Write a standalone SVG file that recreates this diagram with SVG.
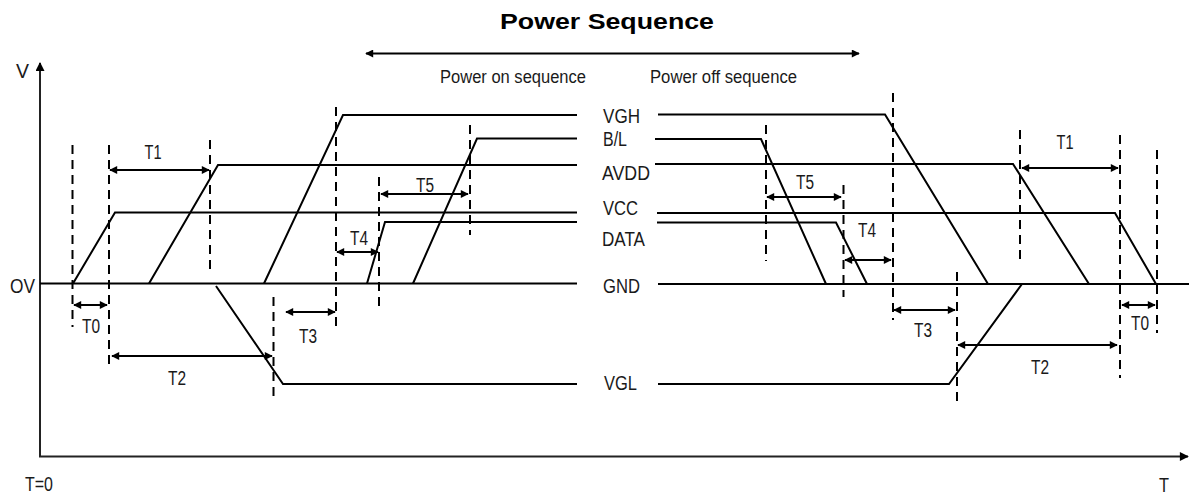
<svg xmlns="http://www.w3.org/2000/svg" width="1189" height="497" viewBox="0 0 1189 497">
<style>
.sig{fill:none;stroke:#000;stroke-width:2;stroke-linejoin:miter}
.dash{fill:none;stroke:#000;stroke-width:2;stroke-dasharray:9,6}
.dim{fill:none;stroke:#000;stroke-width:2;marker-start:url(#ah);marker-end:url(#ah)}
.ax{fill:none;stroke:#222;stroke-width:2}
text{font-family:"Liberation Sans",Arial,sans-serif;fill:#1a1a1a}
.lbl{font-size:20px}
.tl{font-size:20px;text-anchor:middle}
.sub{font-size:18px}
.ttl{font-size:22px;font-weight:bold;text-anchor:middle;fill:#000}
</style>
<defs>
<marker id="ah" viewBox="0 0 10 10" refX="9" refY="5" markerWidth="9" markerHeight="8" markerUnits="userSpaceOnUse" orient="auto-start-reverse">
<path d="M0,0 L10,5 L0,10 z" fill="#000"/>
</marker>
<marker id="axh" viewBox="0 0 10 10" refX="9" refY="5" markerWidth="11" markerHeight="9" markerUnits="userSpaceOnUse" orient="auto">
<path d="M0,0 L10,5 L0,10 z" fill="#000"/>
</marker>
</defs>

<g id="title">
<text class="ttl" x="607" y="29" textLength="214" lengthAdjust="spacingAndGlyphs">Power Sequence</text>
<line class="dim" x1="366" y1="53.5" x2="859" y2="53.5"/>
<text class="sub" x="440" y="83" textLength="146" lengthAdjust="spacingAndGlyphs">Power on sequence</text>
<text class="sub" x="650" y="83" textLength="147" lengthAdjust="spacingAndGlyphs">Power off sequence</text>
</g>

<g id="axes">
<line class="ax" x1="40" y1="457" x2="40" y2="63" marker-end="url(#axh)"/>
<line class="ax" x1="39" y1="456.5" x2="1188" y2="456.5" marker-end="url(#axh)"/>
<text class="lbl" x="16" y="78" textLength="13" lengthAdjust="spacingAndGlyphs">V</text>
<text class="lbl" x="10" y="293" textLength="25" lengthAdjust="spacingAndGlyphs">OV</text>
<text class="lbl" x="25" y="491" textLength="28" lengthAdjust="spacingAndGlyphs">T=0</text>
<text class="lbl" x="1159" y="492" textLength="10" lengthAdjust="spacingAndGlyphs">T</text>
</g>

<g id="signals-on">
<path class="sig" d="M40,283.5 L577,283.5"/>
<path class="sig" d="M73,283.5 L115,212.5 L577,212.5"/>
<path class="sig" d="M149,283.5 L218,165 L577,165"/>
<path class="sig" d="M264,283.5 L343,115 L577,115"/>
<path class="sig" d="M367,283.5 L385,222 L577,222"/>
<path class="sig" d="M413,283.5 L477,138.5 L577,138.5"/>
<path class="sig" d="M216,286 L283,384 L577,384"/>
</g>

<g id="signals-off">
<path class="sig" d="M658,284 L1189,284"/>
<path class="sig" d="M658,114.5 L885,114.5 L988,284"/>
<path class="sig" d="M655,139 L761,139 L826,284"/>
<path class="sig" d="M655,164 L1013,164 L1089,284"/>
<path class="sig" d="M657,213 L1115,213 L1156,284"/>
<path class="sig" d="M657,222.5 L836,222.5 L867,284"/>
<path class="sig" d="M658,384 L949,384 L1022,284"/>
</g>

<g id="signal-labels">
<text class="lbl" x="603" y="123" textLength="37" lengthAdjust="spacingAndGlyphs">VGH</text>
<text class="lbl" x="603" y="146" textLength="24" lengthAdjust="spacingAndGlyphs">B/L</text>
<text class="lbl" x="602" y="180" textLength="48" lengthAdjust="spacingAndGlyphs">AVDD</text>
<text class="lbl" x="603" y="215" textLength="35" lengthAdjust="spacingAndGlyphs">VCC</text>
<text class="lbl" x="602" y="246" textLength="43" lengthAdjust="spacingAndGlyphs">DATA</text>
<text class="lbl" x="603" y="293" textLength="37" lengthAdjust="spacingAndGlyphs">GND</text>
<text class="lbl" x="604" y="390" textLength="33" lengthAdjust="spacingAndGlyphs">VGL</text>
</g>

<g id="markers-dashed">
<line class="dash" x1="72.5" y1="145" x2="72.5" y2="327"/>
<line class="dash" x1="109" y1="145" x2="109" y2="367"/>
<line class="dash" x1="210" y1="140" x2="210" y2="275"/>
<line class="dash" x1="273.5" y1="297" x2="273.5" y2="397"/>
<line class="dash" x1="336" y1="107" x2="336" y2="328"/>
<line class="dash" x1="379" y1="177" x2="379" y2="312"/>
<line class="dash" x1="470" y1="125" x2="470" y2="235"/>
<line class="dash" x1="766" y1="125" x2="766" y2="261"/>
<line class="dash" x1="843.5" y1="185" x2="843.5" y2="297"/>
<line class="dash" x1="893" y1="93" x2="893" y2="320"/>
<line class="dash" x1="957" y1="272" x2="957" y2="407"/>
<line class="dash" x1="1020" y1="130" x2="1020" y2="265"/>
<line class="dash" x1="1120" y1="135" x2="1120" y2="378"/>
<line class="dash" x1="1157" y1="150" x2="1157" y2="333"/>
</g>

<g id="dimensions">
<line class="dim" x1="110" y1="170" x2="209" y2="170"/>
<line class="dim" x1="74" y1="305" x2="107" y2="305"/>
<line class="dim" x1="112" y1="356" x2="272" y2="356"/>
<line class="dim" x1="286" y1="312" x2="335" y2="312"/>
<line class="dim" x1="337" y1="252" x2="378" y2="252"/>
<line class="dim" x1="381" y1="194" x2="468" y2="194"/>
<line class="dim" x1="767" y1="197" x2="841" y2="197"/>
<line class="dim" x1="845" y1="260" x2="891" y2="260"/>
<line class="dim" x1="1022" y1="168" x2="1118" y2="168"/>
<line class="dim" x1="894" y1="310" x2="955" y2="310"/>
<line class="dim" x1="958" y1="345" x2="1117" y2="345"/>
<line class="dim" x1="1122" y1="305" x2="1155" y2="305"/>
<text class="tl" x="153" y="159" textLength="17" lengthAdjust="spacingAndGlyphs">T1</text>
<text class="tl" x="91" y="333" textLength="18" lengthAdjust="spacingAndGlyphs">T0</text>
<text class="tl" x="177" y="385" textLength="18" lengthAdjust="spacingAndGlyphs">T2</text>
<text class="tl" x="308" y="343" textLength="18" lengthAdjust="spacingAndGlyphs">T3</text>
<text class="tl" x="359" y="245" textLength="18" lengthAdjust="spacingAndGlyphs">T4</text>
<text class="tl" x="425" y="192" textLength="18" lengthAdjust="spacingAndGlyphs">T5</text>
<text class="tl" x="805" y="189" textLength="18" lengthAdjust="spacingAndGlyphs">T5</text>
<text class="tl" x="867" y="237" textLength="18" lengthAdjust="spacingAndGlyphs">T4</text>
<text class="tl" x="1065" y="149" textLength="17" lengthAdjust="spacingAndGlyphs">T1</text>
<text class="tl" x="923" y="337" textLength="18" lengthAdjust="spacingAndGlyphs">T3</text>
<text class="tl" x="1040" y="374" textLength="18" lengthAdjust="spacingAndGlyphs">T2</text>
<text class="tl" x="1140" y="330" textLength="18" lengthAdjust="spacingAndGlyphs">T0</text>
</g>
</svg>
